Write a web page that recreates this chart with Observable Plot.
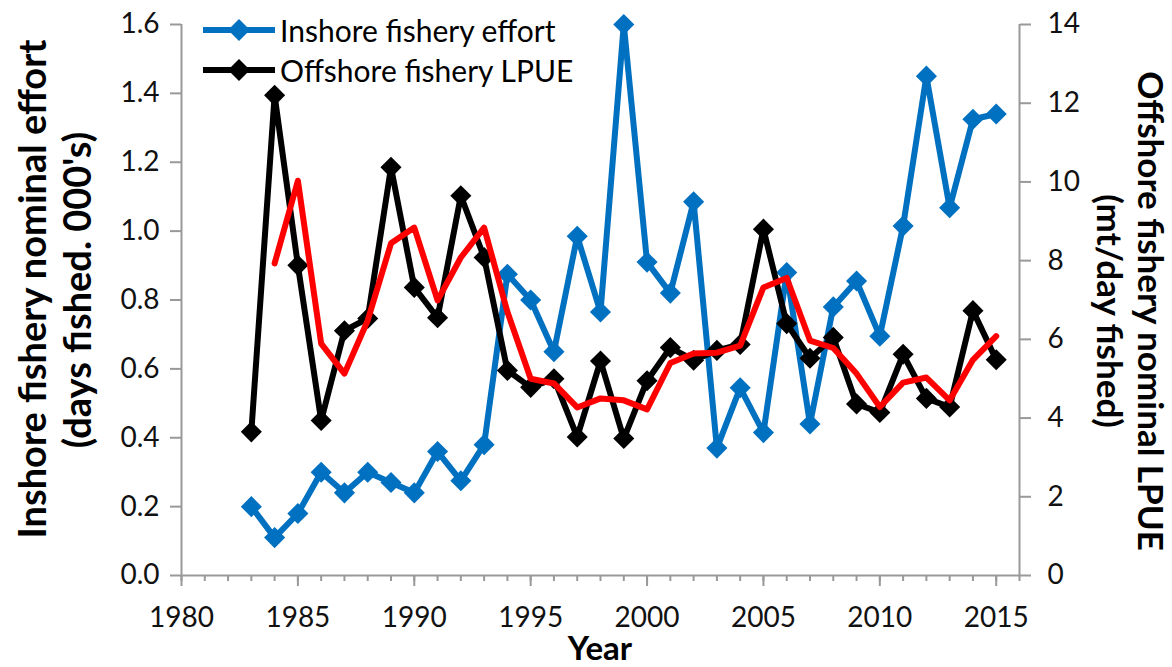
<!DOCTYPE html>
<html><head><meta charset="utf-8">
<script src="https://cdn.jsdelivr.net/npm/d3@7"></script>
<script src="https://cdn.jsdelivr.net/npm/@observablehq/plot@0.6"></script>
<style>
body{margin:0;background:#fff;}
#wrap{position:relative;width:1172px;height:667px;font-family:Lato, "Open Sans", sans-serif;}
#legend{position:absolute;left:203px;top:10px;font-size:30px;color:#000;line-height:40px;}
#legend .row{display:flex;align-items:center;height:40px;}
#legend svg{margin-right:5px;}
</style></head><body><div id="wrap"><div id="legend"></div></div>
<script>
// ---- data ----
const years = [1983,1984,1985,1986,1987,1988,1989,1990,1991,1992,1993,1994,1995,1996,1997,1998,1999,2000,2001,2002,2003,2004,2005,2006,2007,2008,2009,2010,2011,2012,2013,2014,2015];
const inshoreEffort = [0.20,0.11,0.18,0.30,0.24,0.30,0.27,0.24,0.36,0.275,0.38,0.875,0.80,0.65,0.985,0.765,1.60,0.91,0.82,1.085,0.37,0.545,0.415,0.88,0.44,0.78,0.855,0.695,1.015,1.45,1.068,1.325,1.34];
const offshoreLPUE = [3.65,12.2,7.88,3.94,6.22,6.53,10.37,7.32,6.55,9.65,8.08,5.21,4.78,5.0,3.52,5.45,3.48,4.95,5.79,5.47,5.72,5.87,8.8,6.4,5.52,6.05,4.36,4.14,5.62,4.5,4.28,6.73,5.48];
const trendYears = [1984,1985,1986,1987,1988,1989,1990,1991,1992,1993,1994,1995,1996,1997,1998,1999,2000,2001,2002,2003,2004,2005,2006,2007,2008,2009,2010,2011,2012,2013,2014,2015];
const offshoreTrend = [7.93,10.03,5.89,5.13,6.48,8.44,8.84,6.99,8.08,8.84,6.7,5.0,4.88,4.27,4.5,4.45,4.22,5.4,5.64,5.66,5.84,7.32,7.56,5.97,5.78,5.13,4.28,4.9,5.03,4.45,5.48,6.08];
const xMajorTicks = [1980,1985,1990,1995,2000,2005,2010,2015];
const xMinorTicks = [1980,1981,1982,1983,1984,1985,1986,1987,1988,1989,1990,1991,1992,1993,1994,1995,1996,1997,1998,1999,2000,2001,2002,2003,2004,2005,2006,2007,2008,2009,2010,2011,2012,2013,2014,2015,2016];
const leftTicks = [0,0.2,0.4,0.6,0.8,1.0,1.2,1.4,1.6];
const rightTicks = [0,2,4,6,8,10,12,14];
const leftMax = 1.6, rightMax = 14, xDomain = [1980, 2016];
const seriesNames = ["Inshore fishery effort","Offshore fishery LPUE"];
const colors = {inshore:"#0070C0", offshore:"#000000", trend:"#FF0000"};

const ratio = rightMax / leftMax;
const inData = years.map((year,i)=>({year, value: inshoreEffort[i]}));
const offData = years.map((year,i)=>({year, value: offshoreLPUE[i]}));
const trData = trendYears.map((year,i)=>({year, value: offshoreTrend[i]}));

const axisGray = "#999999";
const W = 1172, H = 667;
const plot = Plot.plot({
  width: W, height: H,
  marginLeft: 181, marginRight: 153, marginTop: 24, marginBottom: 92,
  style: {fontFamily: "Lato, 'Open Sans', sans-serif", fontSize: "28px", color: "#000", background: "white", overflow: "visible"},
  x: {domain: xDomain},
  y: {domain: [0, leftMax]},
  marks: [
    Plot.axisX({ticks: xMinorTicks, tickSize: 6, tickFormat: () => "", stroke: axisGray, strokeWidth: 2, label: null}),
    Plot.axisX({ticks: xMajorTicks, tickSize: 11, tickPadding: 21, tickFormat: d => String(d), stroke: axisGray, strokeWidth: 2, fill: "#111", label: null}),
    Plot.axisY({ticks: leftTicks, tickSize: 11, tickPadding: 11, tickFormat: d3.format(".1f"), stroke: axisGray, strokeWidth: 2, fill: "#111", label: null}),
    Plot.axisY({anchor: "right", ticks: rightTicks.map(v => v / ratio), tickSize: 11, tickPadding: 17,
      tickFormat: d => String(Math.round(d * ratio)), stroke: axisGray, strokeWidth: 2, fill: "#111", label: null}),
    Plot.ruleX(xDomain, {stroke: axisGray, strokeWidth: 2}),
    Plot.ruleY([0], {stroke: axisGray, strokeWidth: 2}),
    Plot.line(inData, {x: "year", y: "value", stroke: colors.inshore, strokeWidth: 6}),
    Plot.dot(inData, {x: "year", y: "value", symbol: "diamond2", r: 9.5, fill: colors.inshore}),
    Plot.line(offData, {x: "year", y: d => d.value / ratio, stroke: colors.offshore, strokeWidth: 6}),
    Plot.dot(offData, {x: "year", y: d => d.value / ratio, symbol: "diamond2", r: 9.5, fill: colors.offshore}),
    Plot.line(trData, {x: "year", y: d => d.value / ratio, stroke: colors.trend, strokeWidth: 6})
  ]
});
document.getElementById("wrap").prepend(plot);

// axis titles
const svg = d3.select(plot);
const titleStyle = (t, size) => t.attr("font-weight", "bold").attr("font-size", size).attr("fill", "#000")
  .attr("text-anchor", "middle").attr("dominant-baseline", "central").style("font-family", "Lato, 'Open Sans', sans-serif");
titleStyle(svg.append("text").attr("transform", "translate(31,289) rotate(-90)").text("Inshore fishery nominal effort"), 38);
titleStyle(svg.append("text").attr("transform", "translate(76,290) rotate(-90)").text("(days fished. 000's)"), 38);
titleStyle(svg.append("text").attr("transform", "translate(1152,311) rotate(90)").text("Offshore fishery nominal LPUE"), 35);
titleStyle(svg.append("text").attr("transform", "translate(1111,311) rotate(90)").text("(mt/day fished)"), 35);
titleStyle(svg.append("text").attr("x", 600).attr("y", 647).text("Year"), 33);

// legend
const legend = d3.select("#legend");
[[seriesNames[0], colors.inshore],[seriesNames[1], colors.offshore]].forEach(([name, c]) => {
  const row = legend.append("div").attr("class", "row");
  const s = row.append("svg").attr("width", 72).attr("height", 24);
  s.append("line").attr("x1", 0).attr("x2", 72).attr("y1", 12).attr("y2", 12).attr("stroke", c).attr("stroke-width", 6);
  s.append("path").attr("d", "M36,1L47,12L36,23L25,12Z").attr("fill", c);
  row.append("span").text(name);
});
</script></body></html>
